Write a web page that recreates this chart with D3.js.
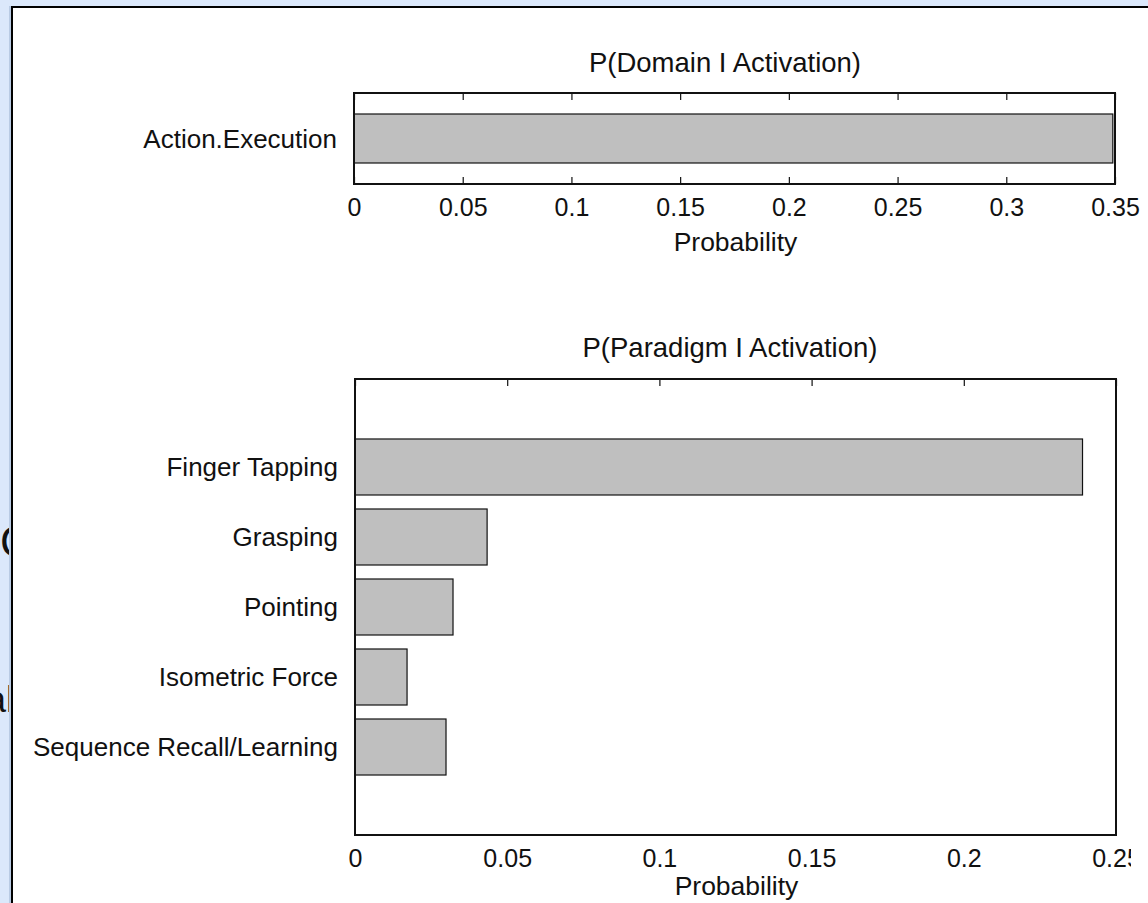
<!DOCTYPE html>
<html>
<head>
<meta charset="UTF-8">
<title>P(Domain | Activation)</title>
<script src="https://cdn.jsdelivr.net/npm/d3@7"></script>
<style>
  body { margin: 0; background: #fff; }
  svg text { font-family: "Liberation Sans", Arial, Helvetica, sans-serif; fill: #111; }
</style>
</head>
<body>
<div id="chart"></div>
<script>
// data
const domainLabels = ["Action.Execution"];
const domainValues = [0.349];
const domainTicks = [0, 0.05, 0.1, 0.15, 0.2, 0.25, 0.3, 0.35];

const paradigmLabels = ["Finger Tapping", "Grasping", "Pointing", "Isometric Force", "Sequence Recall/Learning"];
const paradigmValues = [0.239, 0.0434, 0.0322, 0.0171, 0.0299];
const paradigmTicks = [0, 0.05, 0.1, 0.15, 0.2, 0.25];

const W = 1148, H = 903;

const svg = d3.select("#chart").append("svg")
  .attr("width", W)
  .attr("height", H);

// slide behind the figure
svg.append("rect").attr("width", W).attr("height", H).attr("fill", "#dbe8fb");
svg.append("text").attr("x", 0).attr("y", 557).attr("font-size", 44).text("C");
svg.append("text").attr("x", -14).attr("y", 712).attr("font-size", 36).text("al");
svg.append("rect").attr("x", 9).attr("y", 6).attr("width", 3).attr("height", H).attr("fill", "#b9cbe4");
svg.append("rect").attr("x", 11).attr("y", 6).attr("width", W).attr("height", H).attr("fill", "#000");
svg.append("rect").attr("x", 13).attr("y", 8).attr("width", W).attr("height", H).attr("fill", "#fff");

svg.append("clipPath").attr("id", "cut")
  .append("rect").attr("x", 0).attr("y", 0).attr("width", 1131).attr("height", H);

const fmt = d => String(+d.toFixed(2));

function panel(opts) {
  const { labels, values, ticks, x0, x1, y0, y1, padOuter, title, titleX, titleY, xlabelY, clip } = opts;
  const g = svg.append("g");

  const x = d3.scaleLinear().domain([0, ticks[ticks.length - 1]]).range([x0, x1]);
  const y = d3.scaleBand().domain(labels).range([y0, y1])
    .paddingInner(0.2).paddingOuter(padOuter);

  // bars
  g.append("g").selectAll("rect")
    .data(values)
    .join("rect")
    .attr("x", x(0))
    .attr("y", (d, i) => y(labels[i]))
    .attr("width", d => x(d) - x(0))
    .attr("height", y.bandwidth())
    .attr("fill", "#bfbfbf")
    .attr("stroke", "#111")
    .attr("stroke-width", 1.2);

  // ticks on top and bottom, pointing in
  const bottom = g.append("g")
    .attr("transform", `translate(0,${y1})`)
    .call(d3.axisBottom(x).tickValues(ticks).tickSize(-7).tickFormat(fmt));
  bottom.select(".domain").remove();
  bottom.selectAll("line").attr("stroke", "#111").attr("stroke-width", 1.2);
  bottom.selectAll("text")
    .attr("y", 32).attr("dy", 0)
    .attr("font-size", 25)
    .attr("font-family", null)
    .attr("fill", "#111");
  if (clip) bottom.attr("clip-path", "url(#cut)");

  const top = g.append("g")
    .attr("transform", `translate(0,${y0})`)
    .call(d3.axisTop(x).tickValues(ticks).tickSize(-7).tickFormat(""));
  top.select(".domain").remove();
  top.selectAll("line").attr("stroke", "#111").attr("stroke-width", 1.2);

  // axes box
  g.append("rect")
    .attr("x", x0).attr("y", y0)
    .attr("width", x1 - x0).attr("height", y1 - y0)
    .attr("fill", "none")
    .attr("stroke", "#111")
    .attr("stroke-width", 2);

  // category labels
  g.append("g").selectAll("text")
    .data(labels)
    .join("text")
    .attr("x", x0 - 17)
    .attr("y", d => y(d) + y.bandwidth() / 2)
    .attr("dy", "0.35em")
    .attr("text-anchor", "end")
    .attr("font-size", 26)
    .text(d => d);

  g.append("text")
    .attr("x", titleX).attr("y", titleY)
    .attr("text-anchor", "middle")
    .attr("font-size", 27.5)
    .text(title);

  g.append("text")
    .attr("x", (x0 + x1) / 2 + 1).attr("y", y1 + xlabelY)
    .attr("text-anchor", "middle")
    .attr("font-size", 26.5)
    .text("Probability");
}

panel({
  labels: domainLabels, values: domainValues, ticks: domainTicks,
  x0: 354, x1: 1115, y0: 93, y1: 184, padOuter: 0.343,
  title: "P(Domain I Activation)", titleX: 725, titleY: 72, xlabelY: 67, clip: false
});

panel({
  labels: paradigmLabels, values: paradigmValues, ticks: paradigmTicks,
  x0: 355, x1: 1116, y0: 379, y1: 835, padOuter: 0.857,
  title: "P(Paradigm I Activation)", titleX: 730, titleY: 357, xlabelY: 60, clip: true
});
</script>
</body>
</html>
